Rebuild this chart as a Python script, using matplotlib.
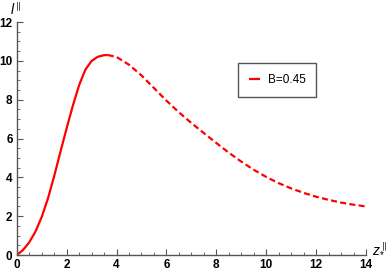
import matplotlib
matplotlib.use("Agg")
import matplotlib.pyplot as plt
from matplotlib.ticker import MultipleLocator

plt.rcParams['font.family'] = ['Liberation Sans', 'DejaVu Sans']
plt.rcParams['mathtext.fontset'] = 'custom'
plt.rcParams['mathtext.it'] = 'Liberation Sans:italic'
plt.rcParams['mathtext.rm'] = 'Liberation Sans'

# solid part of the curve
x_solid = [0, 0.25, 0.5, 0.75, 1.0, 1.25, 1.5, 1.75, 2.0, 2.25, 2.5, 2.75, 3.0, 3.25, 3.5, 3.65]
y_solid = [0, 0.25, 0.65, 1.2, 1.95, 2.9, 4.05, 5.3, 6.52, 7.69, 8.74, 9.54, 9.99, 10.21, 10.29, 10.3]
# dashed part
x_dash = [3.65, 4.0, 4.5, 5.0, 5.5, 6.0, 6.5, 7.0, 7.5, 8.0, 8.5, 9.0, 9.5, 10.0,
          10.5, 11.0, 11.5, 12.0, 12.5, 13.0, 13.5, 14.0]
y_dash = [10.3, 10.2, 9.8, 9.25, 8.6, 7.95, 7.35, 6.8, 6.28, 5.77, 5.27, 4.81, 4.39, 4.02,
          3.7, 3.43, 3.2, 3.0, 2.84, 2.7, 2.59, 2.5]
label = "B=0.45"

fig = plt.figure(figsize=(3.88, 2.77), dpi=100)
ax = fig.add_axes([16.7/388, 1-255/277, (366-16.7)/388, (255-22)/277])

red = '#ff0000'
ax.plot(x_solid, y_solid, color=red, lw=1.6, label=label, solid_capstyle='butt')
ax.plot(x_dash, y_dash, color=red, lw=1.6, dashes=(2.7, 1.5))

ax.set_xlim(0, 14)
ax.set_ylim(0, 12)
for s in ['top', 'right']:
    ax.spines[s].set_visible(False)
axc = '#555555'
for s in ['left', 'bottom']:
    ax.spines[s].set_color(axc)
    ax.spines[s].set_linewidth(1.0)
ax.xaxis.set_major_locator(MultipleLocator(2))
ax.xaxis.set_minor_locator(MultipleLocator(0.5))
ax.yaxis.set_major_locator(MultipleLocator(2))
ax.yaxis.set_minor_locator(MultipleLocator(0.5))
ax.tick_params(which='major', direction='in', length=4, width=0.8, color=axc,
               labelsize=8.5, pad=3)
ax.tick_params(which='minor', direction='in', length=2, width=0.6, color=axc)
for t in ax.get_xticklabels() + ax.get_yticklabels():
    t.set_fontweight('bold')
ax.patch.set_visible(False)

fig.text(10/388, 1-10/277, r'$l^{\parallel}$', fontsize=10, ha='left', va='center')
fig.text(372/388, 1-248/277, r'$z_{*}^{\parallel}$', fontsize=10, ha='left', va='center')

leg = ax.legend(loc='center', bbox_to_anchor=(277/388, 1-80/277),
                bbox_transform=fig.transFigure, fontsize=8.5, handlelength=1.0,
                handletextpad=0.6, borderpad=0.9, fancybox=False, framealpha=1)
leg.get_frame().set_edgecolor('#555555')
leg.get_frame().set_linewidth(1.0)

fig.savefig('out.png', dpi=100)
